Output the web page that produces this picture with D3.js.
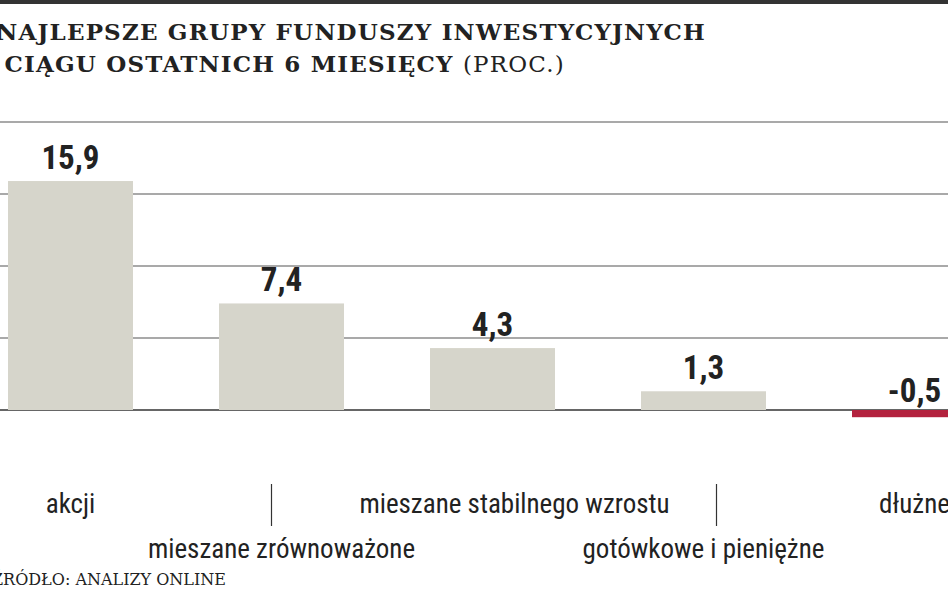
<!DOCTYPE html>
<html><head><meta charset="utf-8">
<script src="https://cdn.jsdelivr.net/npm/d3@7"></script>
<style>body{margin:0;background:#fff}svg{display:block}</style>
</head><body><svg id="c" width="948" height="593"></svg>
<script>
// Chart data
const categories = ["akcji", "mieszane zrównoważone", "mieszane stabilnego wzrostu", "gotówkowe i pieniężne", "dłużne"];
const values = [15.9, 7.4, 4.3, 1.3, -0.5];
const labels = ["15,9", "7,4", "4,3", "1,3", "-0,5"];
const ticks = [0, 5, 10, 15, 20];

const svg = d3.select("#c");
const cond = "'Liberation Sans Narrow','Roboto Condensed','Open Sans',sans-serif";

// top rule
svg.append("rect").attr("x", 0).attr("y", 0).attr("width", 948).attr("height", 4).attr("fill", "#333");

// title
const serif = "'DejaVu Serif','Liberation Serif',serif";
svg.append("text").attr("x", 706).attr("y", 40).attr("text-anchor", "end")
  .attr("font-family", serif).attr("font-weight", "bold").attr("font-size", 23).attr("letter-spacing", 1.2).attr("fill", "#222")
  .text("NAJLEPSZE GRUPY FUNDUSZY INWESTYCYJNYCH");
const t2 = svg.append("text").attr("x", 565).attr("y", 72).attr("text-anchor", "end")
  .attr("font-family", serif).attr("font-size", 23).attr("letter-spacing", 1.2).attr("fill", "#222");
t2.append("tspan").attr("font-weight", "bold").text("W CIĄGU OSTATNICH 6 MIESIĘCY ");
t2.append("tspan").text("(PROC.)");

// scales
const y = d3.scaleLinear().domain([0, 20]).range([410, 122]);
const x = d3.scaleBand().domain(categories).range([8 - 43, 8 - 43 + 211 * 5]).paddingInner(86 / 211).paddingOuter(43 / 211);

// gridlines
svg.append("g").selectAll("line").data(ticks).join("line")
  .attr("x1", 0).attr("x2", 948).attr("y1", d => y(d)).attr("y2", d => y(d))
  .attr("stroke", d => d === 0 ? "#333" : "#555").attr("stroke-width", d => d === 0 ? 1.5 : 1.2);

// bars
svg.append("g").selectAll("rect").data(values).join("rect")
  .attr("x", (d, i) => x(categories[i])).attr("width", x.bandwidth())
  .attr("y", d => y(Math.max(0, d))).attr("height", d => Math.abs(y(d) - y(0)))
  .attr("fill", d => d < 0 ? "#b3223e" : "#d6d5cb");

// value labels
svg.append("g").selectAll("text").data(values).join("text")
  .attr("x", (d, i) => x(categories[i]) + x.bandwidth() / 2)
  .attr("y", d => d < 0 ? y(0) - 8 : y(d) - 12)
  .attr("text-anchor", "middle").attr("font-family", cond).attr("font-weight", "bold")
  .attr("font-size", 33).attr("fill", "#222").text((d, i) => labels[i]);

// category labels, alternating rows
const shift = [0, 0, 22, 0, 0];
svg.append("g").selectAll("text").data(categories).join("text")
  .attr("x", (d, i) => x(d) + x.bandwidth() / 2 + shift[i] - (i === 1 ? 0 : 0))
  .attr("y", (d, i) => i % 2 ? 558 : 513)
  .attr("text-anchor", "middle").attr("font-family", cond).attr("font-size", 27).attr("fill", "#222")
  .text(d => d);

// separators
const sepOff = { 1: -10, 3: 13 };
svg.append("g").selectAll("line").data([1, 3]).join("line")
  .attr("x1", i => x(categories[i]) + x.bandwidth() / 2 + sepOff[i]).attr("x2", i => x(categories[i]) + x.bandwidth() / 2 + sepOff[i])
  .attr("y1", 484).attr("y2", 526).attr("stroke", "#333").attr("stroke-width", 1.2);

// source
svg.append("text").attr("x", -8).attr("y", 585).attr("font-family", serif).attr("font-size", 16).attr("fill", "#222")
  .text("ŹRÓDŁO: ANALIZY ONLINE");
</script></body></html>
